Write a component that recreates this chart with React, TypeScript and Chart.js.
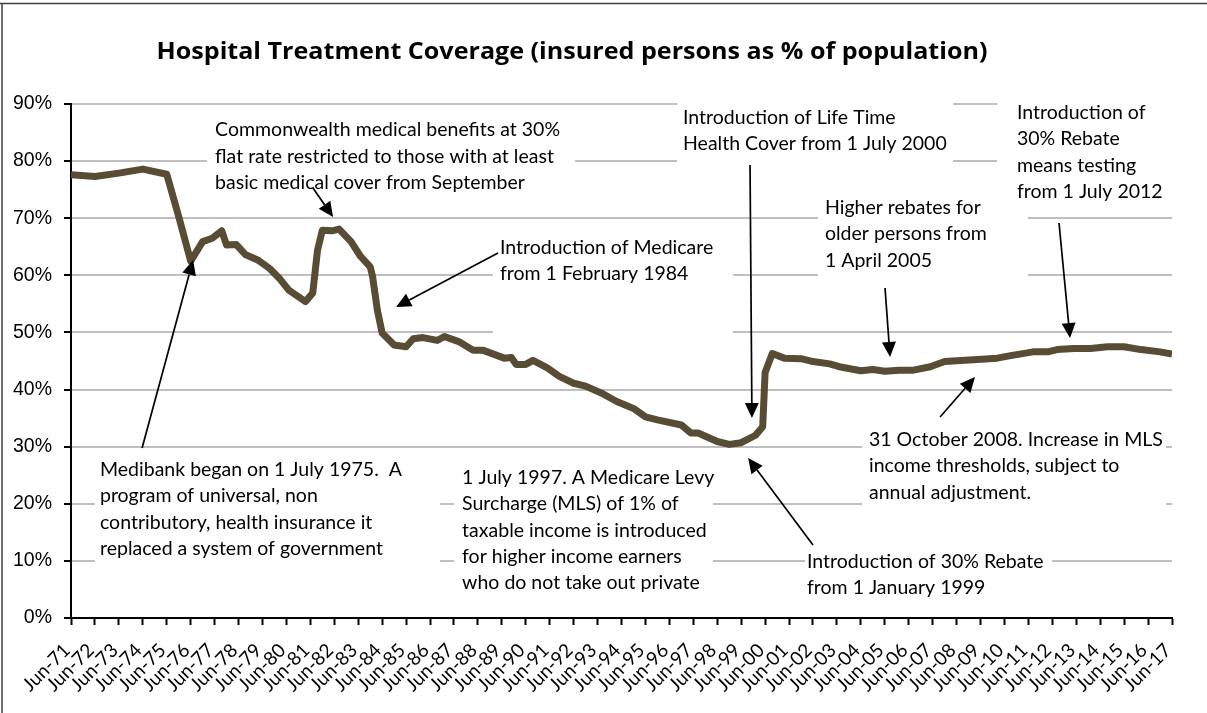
import React, { useEffect, useRef } from "react";
import { Chart, registerables } from "chart.js";

Chart.register(...registerables);

const tickLabels = [
  "Jun-71", "Jun-72", "Jun-73", "Jun-74", "Jun-75", "Jun-76", "Jun-77", "Jun-78", "Jun-79", "Jun-80",
  "Jun-81", "Jun-82", "Jun-83", "Jun-84", "Jun-85", "Jun-86", "Jun-87", "Jun-88", "Jun-89", "Jun-90",
  "Jun-91", "Jun-92", "Jun-93", "Jun-94", "Jun-95", "Jun-96", "Jun-97", "Jun-98", "Jun-99", "Jun-00",
  "Jun-01", "Jun-02", "Jun-03", "Jun-04", "Jun-05", "Jun-06", "Jun-07", "Jun-08", "Jun-09", "Jun-10",
  "Jun-11", "Jun-12", "Jun-13", "Jun-14", "Jun-15", "Jun-16", "Jun-17",
];
const firstTickYear = 1971.5; // June 1971

// decimal year of each observation
const periods = [
  1971.5, 1972.5, 1973.5, 1974.5, 1975.5, 1976.0, 1976.5, 1977.0, 1977.4, 1977.8,
  1978.0, 1978.4, 1978.8, 1979.3, 1979.8, 1980.2, 1980.6, 1981.3, 1981.6, 1981.8,
  1982.0, 1982.4, 1982.7, 1983.2, 1983.6, 1984.0, 1984.1, 1984.3, 1984.5, 1985.0,
  1985.5, 1985.8, 1986.2, 1986.8, 1987.1, 1987.7, 1988.3, 1988.7, 1989.6, 1989.9,
  1990.1, 1990.5, 1990.8, 1991.4, 1991.9, 1992.5, 1993.0, 1993.7, 1994.3, 1995.0,
  1995.5, 1996.0, 1997.0, 1997.4, 1997.7, 1998.5, 1999.0, 1999.5, 2000.1, 2000.4,
  2000.5, 2000.8, 2001.3, 2002.0, 2002.5, 2003.2, 2003.6, 2004.5, 2005.0, 2005.5,
  2006.1, 2006.7, 2007.4, 2008.0, 2009.2, 2010.2, 2010.7, 2011.7, 2012.3, 2012.7,
  2013.4, 2014.1, 2014.8, 2015.5, 2016.2, 2017.0, 2017.5,
];
// insured persons as % of population
const coverage = [
  77.6, 77.3, 77.9, 78.6, 77.7, 70.3, 62.5, 65.9, 66.5, 67.8,
  65.3, 65.4, 63.6, 62.7, 61.2, 59.5, 57.4, 55.4, 56.9, 64.4,
  67.9, 67.8, 68.1, 65.9, 63.3, 61.5, 59.8, 53.9, 49.9, 47.8,
  47.5, 48.9, 49.1, 48.6, 49.3, 48.4, 46.9, 46.9, 45.5, 45.6,
  44.4, 44.4, 45.1, 43.8, 42.3, 41.1, 40.6, 39.3, 37.9, 36.7,
  35.2, 34.7, 33.8, 32.4, 32.4, 30.9, 30.4, 30.7, 32.0, 33.5,
  43.0, 46.3, 45.5, 45.4, 44.9, 44.5, 44.0, 43.3, 43.5, 43.2,
  43.4, 43.4, 44.0, 44.9, 45.2, 45.5, 45.9, 46.6, 46.6, 47.0,
  47.2, 47.2, 47.5, 47.5, 47.0, 46.6, 46.2,
];

const yTicks = [0, 10, 20, 30, 40, 50, 60, 70, 80, 90];

const TITLE = "Hospital Treatment Coverage (insured persons as % of population)";

type Note = {
  lines: string[];
  at: [number, number]; // text left (year), first line (%)
  box: [number, number, number, number]; // year1, %top, year2, %bottom
  arrow?: [number, number, number, number]; // from (year,%) to (year,%)
};

const notes: Note[] = [
  {
    lines: ["Commonwealth medical benefits at 30%", "flat rate restricted to those with at least", "basic medical cover from September"],
    at: [1977.52, 85.4], box: [1977.18, 88.6, 1992.56, 72.3], arrow: [1981.61, 75.29, 1982.45, 70.22],
  },
  {
    lines: ["Introduction of Life Time", "Health Cover from 1 July 2000"],
    at: [1997.07, 87.55], box: [1996.82, 91.75, 2008.35, 78.4], arrow: [1999.87, 79.32, 1999.95, 35.02],
  },
  {
    lines: ["Introduction of", "30% Rebate", "means testing", "from 1 July 2012"],
    at: [2011.02, 88.4], box: [2010.19, 91.75, 2017.5, 71.8], arrow: [2012.78, 69.16, 2013.24, 49.03],
  },
  {
    lines: ["Higher rebates for", "older persons from", "1 April 2005"],
    at: [2003.0, 71.8], box: [2002.71, 74.07, 2011.48, 57.43], arrow: [2005.51, 57.78, 2005.72, 45.7],
  },
  {
    lines: ["Introduction of Medicare", "from 1 February 1984"],
    at: [1989.42, 64.79], box: [1989.13, 67.06, 1999.16, 47.8], arrow: [1989.34, 63.91, 1985.08, 54.46],
  },
  {
    lines: ["Medibank began on 1 July 1975.  A", "program of universal, non", "contributory, health insurance it", "replaced a system of government"],
    at: [1972.71, 25.9], box: [1972.5, 28.54, 1986.92, 7.0], arrow: [1974.47, 29.77, 1976.6, 62.69],
  },
  {
    lines: ["1 July 1997. A Medicare Levy", "Surcharge (MLS) of 1% of", "taxable income is introduced", "for higher income earners", "who do not take out private"],
    at: [1987.84, 24.5], box: [1987.5, 27.67, 1998.32, 3.5],
  },
  {
    lines: ["Introduction of 30% Rebate", "from 1 January 1999"],
    at: [2002.25, 9.8], box: [2002.17, 12.26, 2012.49, 3.15], arrow: [2002.5, 12.78, 1999.79, 28.02],
  },
  {
    lines: ["31 October 2008. Increase in MLS", "income thresholds, subject to", "annual adjustment."],
    at: [2004.84, 31.17], box: [2004.55, 33.8, 2017.25, 18.0], arrow: [2007.81, 35.2, 2009.27, 42.2],
  },
];

const NOTE_FONT = "18.5px Lato";
const NOTE_LINE = 26.3;
const NOTE_REF_TEXT = "Commonwealth medical benefits at 30%";
const NOTE_REF_WIDTH = 345;
const TITLE_FONT = "bold 24px 'Open Sans'";
const TITLE_WIDTH = 831;

function drawArrow(ctx: CanvasRenderingContext2D, x1: number, y1: number, x2: number, y2: number) {
  const ang = Math.atan2(y2 - y1, x2 - x1);
  const L = 15;
  const W = 7;
  const bx = x2 - L * Math.cos(ang);
  const by = y2 - L * Math.sin(ang);
  ctx.beginPath();
  ctx.moveTo(x1, y1);
  ctx.lineTo(bx, by);
  ctx.stroke();
  ctx.beginPath();
  ctx.moveTo(x2, y2);
  ctx.lineTo(bx + W * Math.sin(ang), by - W * Math.cos(ang));
  ctx.lineTo(bx - W * Math.sin(ang), by + W * Math.cos(ang));
  ctx.closePath();
  ctx.fill();
}

const decorPlugin = {
  id: "decor",
  beforeDraw(chart: any) {
    const { ctx, width, height } = chart;
    ctx.save();
    ctx.fillStyle = "#ffffff";
    ctx.fillRect(0, 0, width, height);
    ctx.strokeStyle = "#404040";
    ctx.lineWidth = 1.5;
    ctx.beginPath();
    ctx.moveTo(0, 3.5);
    ctx.lineTo(width, 3.5);
    ctx.moveTo(2, 3.5);
    ctx.lineTo(2, height);
    ctx.stroke();
    ctx.fillStyle = "#000";
    ctx.font = TITLE_FONT;
    ctx.textAlign = "center";
    ctx.textBaseline = "alphabetic";
    const sx = TITLE_WIDTH / ctx.measureText(TITLE).width;
    ctx.translate(572, 59);
    ctx.scale(sx, 1);
    ctx.fillText(TITLE, 0, 0);
    ctx.restore();
  },
  beforeDatasetsDraw(chart: any) {
    const { ctx } = chart;
    const xs = chart.scales.x;
    const ys = chart.scales.y;
    ctx.save();
    ctx.fillStyle = "#ffffff";
    for (const n of notes) {
      const x1 = xs.getPixelForValue(n.box[0]);
      const y1 = ys.getPixelForValue(n.box[1]);
      const x2 = xs.getPixelForValue(n.box[2]);
      const y2 = ys.getPixelForValue(n.box[3]);
      ctx.fillRect(x1, y1, x2 - x1, y2 - y1);
    }
    ctx.fillStyle = "#000";
    ctx.font = NOTE_FONT;
    ctx.textAlign = "left";
    ctx.textBaseline = "middle";
    const sx = NOTE_REF_WIDTH / ctx.measureText(NOTE_REF_TEXT).width;
    for (const n of notes) {
      const tx = xs.getPixelForValue(n.at[0]);
      const ty = ys.getPixelForValue(n.at[1]);
      n.lines.forEach((l, i) => {
        ctx.save();
        ctx.translate(tx, ty + i * NOTE_LINE);
        ctx.scale(sx, 1);
        ctx.fillText(l, 0, 0);
        ctx.restore();
      });
    }
    ctx.restore();
  },
  afterDatasetsDraw(chart: any) {
    const { ctx } = chart;
    const xs = chart.scales.x;
    const ys = chart.scales.y;
    ctx.save();
    ctx.strokeStyle = "#000";
    ctx.fillStyle = "#000";
    ctx.lineWidth = 1.7;
    for (const n of notes) {
      if (!n.arrow) continue;
      const [a, b, c, d] = n.arrow;
      drawArrow(ctx, xs.getPixelForValue(a), ys.getPixelForValue(b), xs.getPixelForValue(c), ys.getPixelForValue(d));
    }
    ctx.restore();
  },
};

export default function App() {
  const ref = useRef<HTMLCanvasElement | null>(null);
  useEffect(() => {
    if (!ref.current) return;
    const chart = new Chart(ref.current, {
      type: "line",
      data: {
        datasets: [
          {
            label: "Hospital treatment coverage",
            data: periods.map((p, i) => ({ x: p, y: coverage[i] })),
            borderColor: "#594C34",
            borderWidth: 7,
            pointRadius: 0,
            tension: 0,
            borderJoinStyle: "round",
            borderCapStyle: "butt",
            fill: false,
          },
        ],
      },
      options: {
        responsive: false,
        animation: false,
        devicePixelRatio: 1,
        layout: { padding: { top: 104, right: 35, left: 0, bottom: 0 } },
        plugins: {
          legend: { display: false },
          tooltip: { enabled: false },
          title: { display: false },
        },
        scales: {
          x: {
            type: "linear",
            min: firstTickYear,
            max: firstTickYear + tickLabels.length - 1,
            afterBuildTicks: (axis: any) => {
              axis.ticks = tickLabels.map((_, i) => ({ value: firstTickYear + i }));
            },
            afterFit: (axis: any) => {
              axis.height = 95;
            },
            grid: {
              drawOnChartArea: false,
              drawTicks: true,
              tickLength: 7,
              tickColor: "#000",
              tickWidth: 2,
            },
            border: { display: true, color: "#000", width: 2 },
            ticks: {
              autoSkip: false,
              minRotation: 45,
              maxRotation: 45,
              padding: 14,
              labelOffset: -4,
              color: "#000",
              font: { family: "Lato", size: 19 },
              callback: (_v: any, i: number) => tickLabels[i],
            },
          },
          y: {
            min: 0,
            max: 90,
            afterBuildTicks: (axis: any) => {
              axis.ticks = yTicks.map((v) => ({ value: v }));
            },
            afterFit: (axis: any) => {
              axis.width = 71;
            },
            grid: {
              color: "#BFBFBF",
              lineWidth: 2,
              tickColor: "#000",
              tickLength: 7,
              tickWidth: 2,
            },
            border: { display: true, color: "#000", width: 2 },
            ticks: {
              padding: 12,
              color: "#000",
              font: { family: "'Liberation Sans'", size: 19.5 },
              callback: (v: any) => v + "%",
            },
          },
        },
      },
      plugins: [decorPlugin],
    } as any);
    return () => chart.destroy();
  }, []);
  return (
    <div style={{ position: "absolute", left: 0, top: 0, width: 1207, height: 713, background: "#fff" }}>
      <canvas ref={ref} width={1207} height={713} style={{ display: "block" }} />
    </div>
  );
}
